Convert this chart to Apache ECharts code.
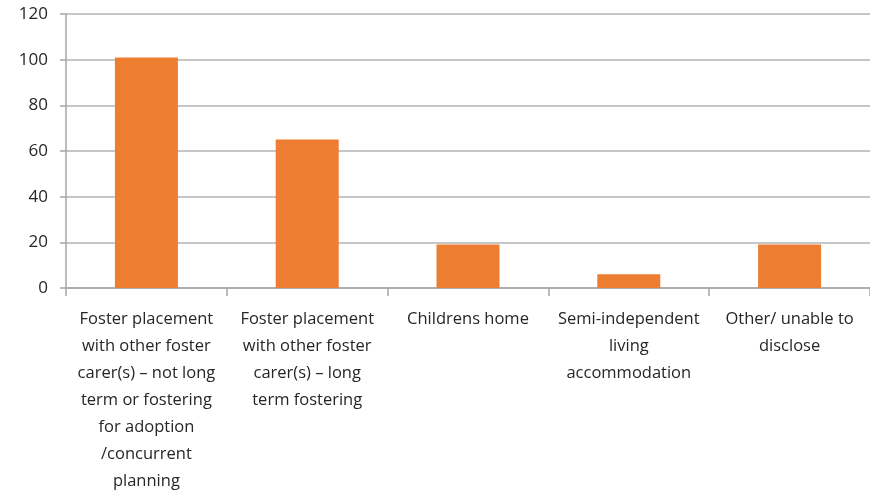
<!DOCTYPE html>
<html>
<head>
<meta charset="utf-8">
<script src="https://cdn.jsdelivr.net/npm/echarts@6/dist/echarts.min.js"></script>
<style>
  html, body { margin: 0; padding: 0; background: #fff; }
  #chart { width: 870px; height: 492px; }
</style>
</head>
<body>
<div id="chart"></div>
<script>
const categories = [
  'Foster placement\nwith other foster\ncarer(s) \u2013 not long\nterm or fostering\nfor adoption\n/concurrent\nplanning',
  'Foster placement\nwith other foster\ncarer(s) \u2013 long\nterm fostering',
  'Childrens home',
  'Semi-independent\nliving\naccommodation',
  'Other/ unable to\ndisclose'
];
const counts = [101, 65, 19, 6, 19];
const yTicks = [0, 20, 40, 60, 80, 100, 120];

const chart = echarts.init(document.getElementById('chart'));
chart.setOption({
  animation: false,
  grid: { left: 66, right: 0, top: 14, bottom: 204, containLabel: false, outerBoundsMode: 'none' },
  xAxis: {
    type: 'category',
    data: categories,
    axisLine: { lineStyle: { color: '#a6a6a6', width: 1.5 } },
    axisTick: { show: true, length: 8, alignWithLabel: false, lineStyle: { color: '#a6a6a6', width: 1.5 } },
    axisLabel: {
      interval: 0,
      margin: 18,
      color: '#262626',
      fontFamily: 'Open Sans',
      fontSize: 16.5,
      lineHeight: 27,
      align: 'center'
    }
  },
  yAxis: {
    type: 'value',
    min: yTicks[0],
    max: yTicks[yTicks.length - 1],
    interval: 20,
    axisLine: { show: true, lineStyle: { color: '#a6a6a6', width: 1.5 } },
    axisTick: { show: true, length: 6, lineStyle: { color: '#a6a6a6', width: 1.5 } },
    splitLine: { lineStyle: { color: '#b3b3b3', width: 1.5 } },
    axisLabel: {
      margin: 18,
      color: '#262626',
      fontFamily: 'Open Sans',
      fontSize: 17
    }
  },
  series: [{
    type: 'bar',
    data: counts,
    barWidth: 63,
    itemStyle: { color: '#ed7d31' }
  }]
});
</script>
</body>
</html>
